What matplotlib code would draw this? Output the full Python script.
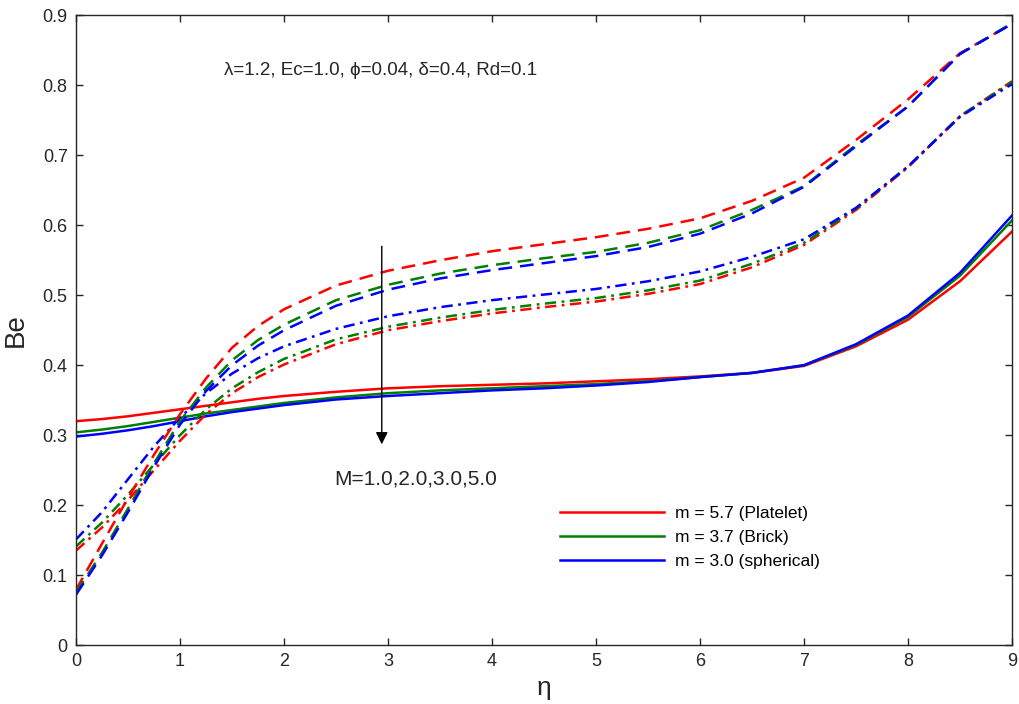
import numpy as np
import matplotlib
matplotlib.use('Agg')
import matplotlib.pyplot as plt

plt.rcParams['font.family'] = ['Liberation Sans', 'DejaVu Sans']

# eta grid and Bejan number profiles (solid / dash-dot / dashed families)
eta = [0, 0.25, 0.5, 0.75, 1.0, 1.25, 1.5, 1.75, 2.0, 2.5, 3.0, 3.5,
       4.0, 4.5, 5.0, 5.5, 6.0, 6.5, 7.0, 7.5, 8.0, 8.5, 9.0]

solid_red = [0.320, 0.323, 0.327, 0.332, 0.337, 0.342, 0.347, 0.352, 0.356, 0.362, 0.367, 0.370,
             0.372, 0.374, 0.377, 0.380, 0.384, 0.389, 0.399, 0.427, 0.465, 0.520, 0.591]
solid_green = [0.304, 0.308, 0.313, 0.319, 0.325, 0.331, 0.336, 0.341, 0.346, 0.354, 0.360, 0.364,
               0.367, 0.370, 0.373, 0.377, 0.383, 0.389, 0.400, 0.429, 0.469, 0.528, 0.607]
solid_blue = [0.298, 0.302, 0.307, 0.313, 0.320, 0.327, 0.333, 0.338, 0.343, 0.351, 0.356, 0.360,
              0.364, 0.367, 0.371, 0.376, 0.383, 0.389, 0.400, 0.430, 0.471, 0.532, 0.614]

dashdot_red = [0.135, 0.168, 0.207, 0.250, 0.292, 0.330, 0.360, 0.383, 0.401, 0.430, 0.450, 0.463,
               0.474, 0.483, 0.491, 0.502, 0.516, 0.540, 0.572, 0.622, 0.683, 0.756, 0.806]
dashdot_green = [0.141, 0.175, 0.215, 0.258, 0.300, 0.337, 0.367, 0.390, 0.409, 0.437, 0.455, 0.468,
                 0.479, 0.488, 0.496, 0.507, 0.521, 0.545, 0.575, 0.624, 0.684, 0.756, 0.805]
dashdot_blue = [0.151, 0.190, 0.237, 0.284, 0.325, 0.360, 0.388, 0.410, 0.427, 0.452, 0.470, 0.483,
                0.493, 0.501, 0.509, 0.520, 0.534, 0.555, 0.580, 0.625, 0.684, 0.755, 0.802]

dashed_red = [0.079, 0.145, 0.210, 0.272, 0.330, 0.381, 0.425, 0.456, 0.480, 0.514, 0.535, 0.550,
              0.563, 0.573, 0.583, 0.595, 0.610, 0.635, 0.668, 0.722, 0.780, 0.846, 0.888]
dashed_green = [0.075, 0.132, 0.195, 0.260, 0.320, 0.368, 0.407, 0.436, 0.458, 0.493, 0.515, 0.531,
                0.543, 0.553, 0.562, 0.575, 0.593, 0.622, 0.656, 0.715, 0.770, 0.845, 0.889]
dashed_blue = [0.072, 0.128, 0.190, 0.255, 0.315, 0.363, 0.400, 0.428, 0.450, 0.485, 0.508, 0.524,
               0.536, 0.546, 0.556, 0.569, 0.588, 0.617, 0.655, 0.713, 0.770, 0.845, 0.888]

labels = ['m = 5.7 (Platelet)', 'm = 3.7 (Brick)', 'm = 3.0 (spherical)']
colors = ['#ff0000', '#008000', '#0000ff']

fig = plt.figure(figsize=(10.19, 7.04), dpi=100)
ax = fig.add_axes([0.0746, 0.0838, 0.9185, 0.8942])

lw = 1.8
for y, c, lab in zip([solid_red, solid_green, solid_blue], colors, labels):
    ax.plot(eta, y, '-', color=c, lw=lw, label=lab)
for y, c in zip([dashdot_red, dashdot_green, dashdot_blue], colors):
    ax.plot(eta, y, color=c, lw=lw, linestyle=(0, (4.5, 2.2, 1.1, 2.2)))
for y, c in zip([dashed_red, dashed_green, dashed_blue], colors):
    ax.plot(eta, y, color=c, lw=lw, linestyle=(0, (5.5, 3.2)))

ax.set_xlim(0, 9)
ax.set_ylim(0, 0.9)
ax.set_xticks(np.arange(0, 10, 1))
ax.set_yticks(np.arange(0, 0.95, 0.1))
ax.set_yticklabels(['0', '0.1', '0.2', '0.3', '0.4', '0.5', '0.6', '0.7', '0.8', '0.9'])
ax.tick_params(direction='in', top=True, right=True, length=5, width=1,
               labelsize=13, colors='#262626', pad=6)
for s in ax.spines.values():
    s.set_color('#262626')
    s.set_linewidth(1)

ax.set_xlabel('η', fontsize=19, color='#262626', labelpad=4)
ax.set_ylabel('Be', fontsize=20, color='#262626', labelpad=10)

ax.text(2.93, 0.822, 'λ=1.2, Ec=1.0, ϕ=0.04, δ=0.4, Rd=0.1', fontsize=13.5,
        color='#262626', ha='center', va='center')

# arrow for increasing M
ax.annotate('', xy=(2.94, 0.283), xytext=(2.94, 0.574),
            arrowprops=dict(arrowstyle='-|>', color='black', lw=1, mutation_scale=18))
ax.text(3.27, 0.238, 'M=1.0,2.0,3.0,5.0', fontsize=15, color='#262626',
        ha='center', va='center')

ax.legend(loc='upper left', bbox_to_anchor=(0.517, 0.2216), frameon=False,
          fontsize=12.5, handlelength=6.0, handletextpad=0.63, labelspacing=0.52,
          borderaxespad=0, borderpad=0)

fig.savefig('out.png', dpi=100)
